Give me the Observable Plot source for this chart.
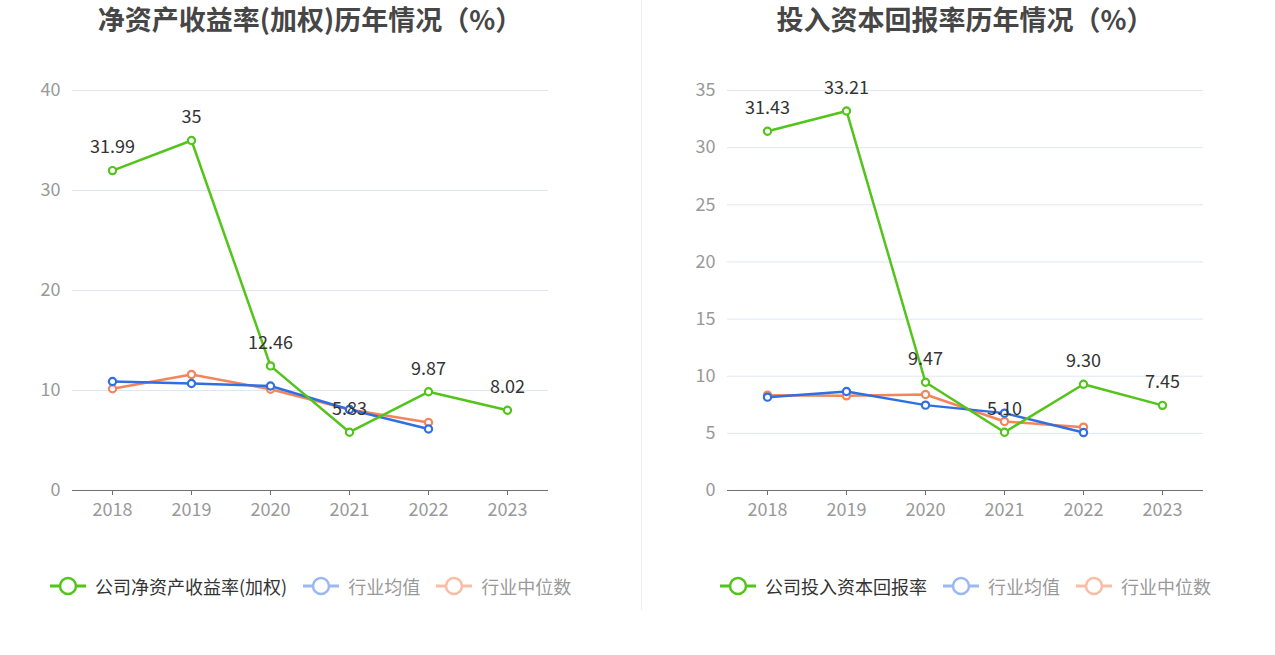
<!DOCTYPE html>
<html><head><meta charset="utf-8">
<script src="https://cdn.jsdelivr.net/npm/d3@7"></script>
<script src="https://cdn.jsdelivr.net/npm/@observablehq/plot@0.6"></script>
<style>
body{margin:0;background:#fff;font-family:"Noto Sans CJK SC","Noto Sans",sans-serif;}
#wrap{position:relative;width:1275px;height:655px;overflow:hidden;}
.title{position:absolute;top:-1px;font-size:27px;font-weight:bold;color:#464646;text-align:center;width:600px;white-space:nowrap;}
.chart{position:absolute;top:40px;}
.legend{position:absolute;top:573px;display:flex;align-items:center;font-size:18px;white-space:nowrap;}
.legend .item{display:flex;align-items:center;margin-right:15px;}
.legend svg{margin-right:8px;}
#divider{position:absolute;left:641px;top:0;width:1px;height:610px;background:#eeeeee;}
</style></head>
<body><div id="wrap"><div id="divider"></div></div>
<script>
const years = ["2018","2019","2020","2021","2022","2023"];
// Left: ROE (weighted)
const roeCompany = [31.99, 35, 12.46, 5.83, 9.87, 8.02];
const roeIndustryAvg = [10.9, 10.7, 10.45, 8.1, 6.15, null];
const roeIndustryMedian = [10.17, 11.6, 10.13, 8.1, 6.8, null];
// Right: ROIC
const roicCompany = [31.43, 33.21, 9.47, 5.10, 9.30, 7.45];
const roicIndustryAvg = [8.17, 8.66, 7.47, 6.77, 5.07, null];
const roicIndustryMedian = [8.34, 8.28, 8.4, 6.04, 5.54, null];

const seriesNamesL = ["公司净资产收益率(加权)", "行业均值", "行业中位数"];
const seriesNamesR = ["公司投入资本回报率", "行业均值", "行业中位数"];
const titles = ["净资产收益率(加权)历年情况（%）", "投入资本回报率历年情况（%）"];
const colors = ["#52c41a", "#2f6fe4", "#f5845a"];
const legendColors = ["#52c41a", "#9ab8f2", "#f9bda6"];
const legendText = ["#333333", "#999999", "#999999"];

function tidy(names, arrs){
  const out=[];
  arrs.forEach((a,si)=>a.forEach((v,i)=>{ if(v!=null) out.push({s:names[si], si, year:years[i], v}); }));
  return out;
}

function makeChart(cfg){
  const data = tidy(cfg.names, cfg.arrs);
  const comp = data.filter(d=>d.si===0);
  const chart = Plot.plot({
    width: 637, height: 520,
    marginLeft: cfg.ml, marginRight: 637-cfg.ml-476, marginTop: 50, marginBottom: 70,
    style:{fontFamily:'"Noto Sans CJK SC","Noto Sans",sans-serif', fontSize:"18px", background:"transparent"},
    x:{type:"point", domain:years, padding:0.5, range:[cfg.ml-2, cfg.ml+476]},
    y:{domain:cfg.ydom, ticks:cfg.yticks},
    marks:[
      Plot.ruleY(cfg.yticks.filter(t=>t>0), {stroke:"#e0e6f1", strokeWidth:1}),
      Plot.axisY({ticks:cfg.yticks, tickSize:0, tickPadding:12, fill:"#999", fontSize:18, label:null}),
      Plot.axisX({tickSize:5, tickPadding:8, stroke:"#6e7079", fill:"#999", fontSize:18, label:null}),
      Plot.ruleY([0], {stroke:"#6e7079", strokeWidth:1.2}),
      Plot.line(data.filter(d=>d.si===2), {x:"year", y:"v", stroke:colors[2], strokeWidth:2.5}),
      Plot.line(data.filter(d=>d.si===1), {x:"year", y:"v", stroke:colors[1], strokeWidth:2.5}),
      Plot.line(comp, {x:"year", y:"v", stroke:colors[0], strokeWidth:2.5}),
      Plot.dot(data.filter(d=>d.si===2), {x:"year", y:"v", r:3.6, fill:"#fff", stroke:colors[2], strokeWidth:2.2}),
      Plot.dot(data.filter(d=>d.si===1), {x:"year", y:"v", r:3.6, fill:"#fff", stroke:colors[1], strokeWidth:2.2}),
      Plot.dot(comp, {x:"year", y:"v", r:3.6, fill:"#fff", stroke:colors[0], strokeWidth:2.2}),
      Plot.text(comp, {x:"year", y:"v", text:d=>cfg.fmt(d.v), dy:-23, fill:"#333", fontSize:18})
    ]
  });
  const div=document.createElement("div");
  div.className="chart"; div.style.left=cfg.left+"px";
  div.appendChild(chart);
  document.getElementById("wrap").appendChild(div);

  const t=document.createElement("div");
  t.className="title"; t.textContent=cfg.title; t.style.left=(cfg.tcenter-300)+"px";
  document.getElementById("wrap").appendChild(t);

  const lg=document.createElement("div");
  lg.className="legend"; lg.style.left=cfg.lgLeft+"px";
  cfg.names.forEach((n,i)=>{
    const it=document.createElement("div"); it.className="item";
    it.innerHTML=`<svg width="38" height="24"><line x1="1" y1="12" x2="37" y2="12" stroke="${legendColors[i]}" stroke-width="3"/><circle cx="19" cy="12" r="8" fill="#fff" stroke="${legendColors[i]}" stroke-width="2.5"/></svg><span style="color:${legendText[i]}">${n}</span>`;
    lg.appendChild(it);
  });
  document.getElementById("wrap").appendChild(lg);
}

makeChart({names:seriesNamesL, arrs:[roeCompany, roeIndustryAvg, roeIndustryMedian], ydom:[0,40], yticks:[0,10,20,30,40],
  ml:72, left:0, title:titles[0], tcenter:310, lgLeft:49, fmt:v=>String(v)});
makeChart({names:seriesNamesR, arrs:[roicCompany, roicIndustryAvg, roicIndustryMedian], ydom:[0,35], yticks:[0,5,10,15,20,25,30,35],
  ml:90, left:637, title:titles[1], tcenter:965, lgLeft:719, fmt:v=>v.toFixed(2)});
</script>
</body></html>
